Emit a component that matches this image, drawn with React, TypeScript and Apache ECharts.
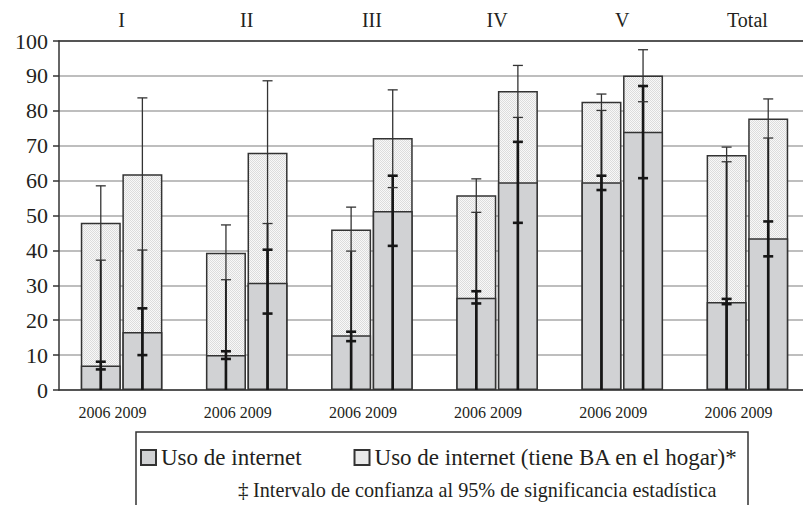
import React, { useEffect, useRef } from "react";
import * as echarts from "echarts";

const categories = ["I", "II", "III", "IV", "V", "Total"];
const years = ["2006", "2009"];

const uso2006 = [7.0, 10.0, 15.7, 26.4, 59.5, 25.2];
const uso2009 = [16.6, 30.7, 51.3, 59.5, 74.0, 43.5];
const ba2006 = [47.9, 39.3, 46.0, 55.8, 82.6, 67.3];
const ba2009 = [61.8, 68.0, 72.2, 85.7, 90.1, 77.8];

const baCiHigh2006 = [58.5, 47.3, 52.4, 60.5, 84.8, 69.6];
const baCiLow2006 = [37.2, 31.6, 39.8, 50.9, 80.1, 65.4];
const baCiHigh2009 = [83.7, 88.6, 86.0, 93.0, 97.5, 83.4];
const baCiLow2009 = [40.1, 47.7, 58.0, 78.1, 82.6, 72.2];
const usoCiHigh2006 = [8.1, 11.1, 16.7, 28.3, 61.4, 26.1];
const usoCiLow2006 = [5.9, 8.9, 14.0, 24.8, 57.3, 24.6];
const usoCiHigh2009 = [23.4, 40.2, 61.4, 71.1, 87.1, 48.3];
const usoCiLow2009 = [10.0, 21.9, 41.3, 47.9, 60.7, 38.3];

const USO = "Uso de internet";
const BA = "Uso de internet (tiene BA en el hogar)*";
const CI_TEXT = "Intervalo de confianza al 95% de significancia estadística";

const FONT = "Liberation Serif";
const TXT = "#231f20";
const DARK = "#333333";

function makePattern() {
  const c = document.createElement("canvas");
  c.width = 2;
  c.height = 2;
  const ctx = c.getContext("2d")!;
  ctx.fillStyle = "#f8f8f8";
  ctx.fillRect(0, 0, 2, 2);
  ctx.fillStyle = "#dcdcdc";
  ctx.fillRect(0, 0, 1, 1);
  ctx.fillRect(1, 1, 1, 1);
  return { image: c, repeat: "repeat", imageWidth: 2, imageHeight: 2 } as any;
}

export default function App() {
  const ref = useRef<HTMLDivElement>(null);
  useEffect(() => {
    if (!ref.current) return;
    const chart = echarts.init(ref.current, null, { renderer: "svg" });
    const pattern = makePattern();
    const BAR_W = 40;
    const OFFSET = 20.8;

    const errData: number[][] = [];
    categories.forEach((_, i) => {
      errData.push([i, 0, baCiHigh2006[i], baCiLow2006[i], usoCiHigh2006[i], usoCiLow2006[i]]);
      errData.push([i, 1, baCiHigh2009[i], baCiLow2009[i], usoCiHigh2009[i], usoCiLow2009[i]]);
    });

    const barBase = {
      type: "bar",
      barWidth: BAR_W,
      barGap: "4%",
      yAxisIndex: 0,
    };

    const option: any = {
      animation: false,
      textStyle: { fontFamily: FONT, color: TXT },
      grid: { left: 59, right: -7, top: 41, bottom: 115, outerBoundsMode: "none", containLabel: false },
      legend: {
        data: [USO, BA],
        left: 140,
        top: 446,
        padding: 0,
        itemWidth: 15,
        itemHeight: 15,
        itemGap: 52,
        icon: "rect",
        selectedMode: false,
        textStyle: { fontSize: 23, fontFamily: FONT, color: TXT },
      },
      xAxis: [
        {
          type: "category",
          data: categories,
          position: "bottom",
          axisLine: { lineStyle: { color: DARK, width: 1.5 } },
          axisTick: { show: false },
          axisLabel: {
            formatter: () => years.join(" "),
            fontSize: 16,
            margin: 14,
            padding: [0, 18, 0, 0],
            color: TXT,
            fontFamily: FONT,
          },
        },
        { type: "category", data: categories, show: false },
        {
          type: "category",
          data: categories,
          position: "top",
          axisLine: { lineStyle: { color: DARK, width: 1.5 } },
          axisTick: { show: false },
          axisLabel: { fontSize: 20, margin: 11, color: TXT, fontFamily: FONT },
        },
      ],
      yAxis: {
        type: "value",
        min: 0,
        max: 100,
        interval: 10,
        axisLine: { show: true, lineStyle: { color: DARK, width: 1.5 } },
        axisTick: { show: true, length: 6, lineStyle: { color: DARK, width: 1.5 } },
        axisLabel: { fontSize: 22, margin: 11, color: TXT, fontFamily: FONT },
        splitLine: { lineStyle: { color: "#a8a8a8", width: 1.5 } },
      },
      graphic: [
        {
          type: "rect",
          shape: { x: 136, y: 432, width: 612, height: 100 },
          style: { fill: "none", stroke: DARK, lineWidth: 1.5 },
          z: 10,
        },
        {
          type: "text",
          x: 238,
          y: 490,
          style: { text: "‡", fontSize: 21, fontFamily: FONT, fill: TXT, verticalAlign: "middle" },
          z: 10,
        },
        {
          type: "text",
          x: 253,
          y: 490,
          style: { text: CI_TEXT, fontSize: 20.2, fontFamily: FONT, fill: TXT, verticalAlign: "middle" },
          z: 10,
        },
      ],
      series: [
        {
          ...barBase,
          name: BA,
          xAxisIndex: 0,
          data: ba2006,
          itemStyle: { color: pattern, borderColor: DARK, borderWidth: 1.5 },
        },
        {
          ...barBase,
          name: BA,
          xAxisIndex: 0,
          data: ba2009,
          itemStyle: { color: pattern, borderColor: DARK, borderWidth: 1.5 },
        },
        {
          ...barBase,
          name: USO,
          xAxisIndex: 1,
          data: uso2006,
          itemStyle: { color: "#d1d2d4", borderColor: DARK, borderWidth: 1.5 },
        },
        {
          ...barBase,
          name: USO,
          xAxisIndex: 1,
          data: uso2009,
          itemStyle: { color: "#d1d2d4", borderColor: DARK, borderWidth: 1.5 },
        },
        {
          type: "custom",
          xAxisIndex: 0,
          yAxisIndex: 0,
          z: 5,
          data: errData,
          renderItem: (params: any, api: any) => {
            const ci = api.value(0);
            const yi = api.value(1);
            const base = api.coord([ci, 0]);
            const x = base[0] + (yi === 0 ? -OFFSET : OFFSET);
            const y0 = base[1];
            const yBaHi = api.coord([ci, api.value(2)])[1];
            const yBaLo = api.coord([ci, api.value(3)])[1];
            const yUsoHi = api.coord([ci, api.value(4)])[1];
            const yUsoLo = api.coord([ci, api.value(5)])[1];
            const cap = 5;
            const line = (x1: number, y1: number, x2: number, y2: number, w: number, c: string) => ({
              type: "line",
              shape: { x1, y1, x2, y2 },
              style: { stroke: c, lineWidth: w },
            });
            return {
              type: "group",
              children: [
                line(x, yBaHi, x, yBaLo, 1.3, "#333"),
                line(x, yBaLo, x, y0, 2, "#222"),
                line(x, yUsoHi, x, y0, 2.6, "#161616"),
                line(x - cap, yBaHi, x + cap, yBaHi, 1.3, "#333"),
                line(x - cap, yBaLo, x + cap, yBaLo, 1.3, "#333"),
                line(x - cap, yUsoHi, x + cap, yUsoHi, 2.6, "#161616"),
                line(x - cap, yUsoLo, x + cap, yUsoLo, 2.6, "#161616"),
              ],
            };
          },
        },
      ],
    };
    chart.setOption(option);
    return () => chart.dispose();
  }, []);
  return (
    <div
      ref={ref}
      style={{ position: "absolute", left: 0, top: 0, width: 803, height: 505, background: "#fff" }}
    />
  );
}
